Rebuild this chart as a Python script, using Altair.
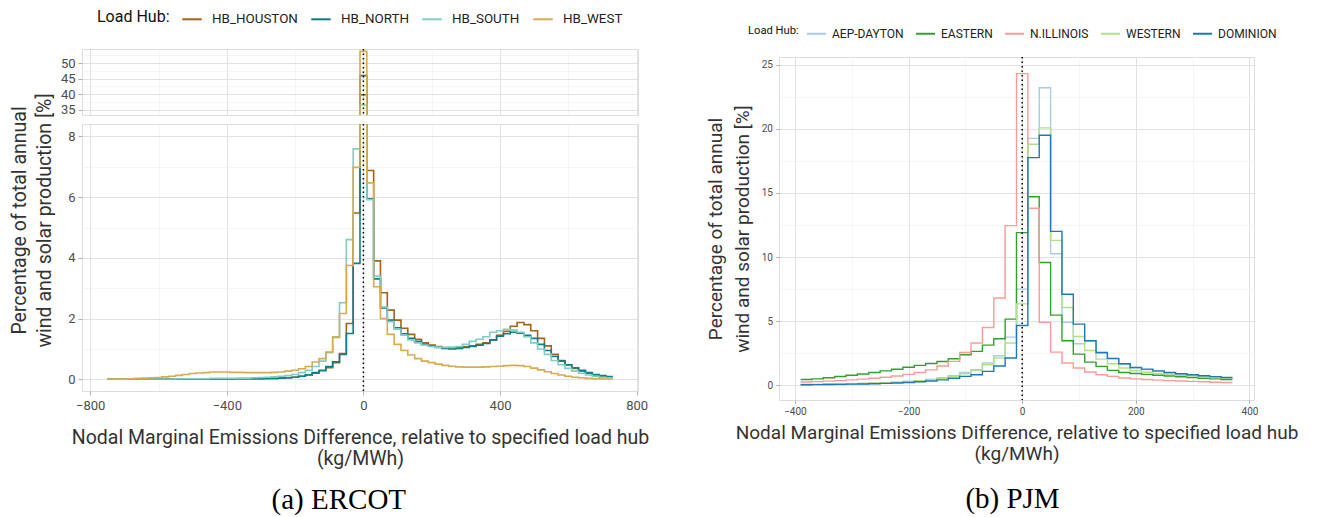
import altair as alt
import pandas as pd

# ---------------- ERCOT (bins of 20 kg/MWh, edges -750 ... 730) ----------------
ERCOT_HUBS = ["HB_HOUSTON", "HB_NORTH", "HB_SOUTH", "HB_WEST"]
ERCOT_COLORS = ["#A6611A", "#0E7F86", "#80CDC1", "#D9AA4E"]
ERCOT_EDGES = list(range(-750, 731, 20))

# left tail: bin centres -740 ... -220 (27 bins)
houston_left = [0.0, 0.0, 0.0, 0.0, 0.0, 0.0, 0.0, 0.01, 0.01, 0.01, 0.01, 0.01, 0.01, 0.01,
                0.01, 0.01, 0.01, 0.01, 0.01, 0.02, 0.02, 0.02, 0.02, 0.03, 0.03, 0.04, 0.05]
north_left = [0.0, 0.0, 0.0, 0.0, 0.0, 0.0, 0.0, 0.01, 0.01, 0.01, 0.01, 0.01, 0.01, 0.01,
              0.01, 0.01, 0.01, 0.01, 0.01, 0.02, 0.02, 0.02, 0.02, 0.03, 0.03, 0.04, 0.05]
south_left = [0.0, 0.0, 0.0, 0.01, 0.01, 0.01, 0.01, 0.01, 0.01, 0.01, 0.02, 0.02, 0.02, 0.02,
              0.02, 0.03, 0.03, 0.03, 0.03, 0.04, 0.04, 0.05, 0.06, 0.07, 0.08, 0.1, 0.12]
west_left = [0.0, 0.01, 0.01, 0.02, 0.03, 0.04, 0.05, 0.06, 0.08, 0.1, 0.13, 0.16, 0.19, 0.21,
             0.22, 0.24, 0.24, 0.24, 0.23, 0.23, 0.22, 0.22, 0.22, 0.22, 0.23, 0.24, 0.27]
# near centre: bin centres -200 ... -20 (10 bins)
houston_near = [0.07, 0.1, 0.14, 0.2, 0.28, 0.38, 0.55, 0.85, 1.84, 5.48]
north_near = [0.07, 0.1, 0.15, 0.22, 0.3, 0.42, 0.58, 0.82, 1.51, 3.82]
south_near = [0.16, 0.22, 0.3, 0.42, 0.6, 0.88, 1.4, 2.52, 4.6, 7.59]
west_near = [0.3, 0.35, 0.42, 0.57, 0.68, 0.9, 1.38, 2.17, 3.75, 6.98]
# central bin (-10 ... 10)
houston_mid = [39.8]
north_mid = [45.96]
south_mid = [36.5]
west_mid = [53.75]
# right side: bin centres 20 ... 720 (36 bins)
houston_right = [6.88, 3.9, 2.85, 2.28, 1.95, 1.68, 1.48, 1.32, 1.2, 1.13, 1.08, 1.05, 1.04, 1.05,
                 1.07, 1.1, 1.15, 1.2, 1.3, 1.45, 1.58, 1.75, 1.87, 1.8, 1.6, 1.35, 1.1, 0.82,
                 0.62, 0.47, 0.36, 0.27, 0.2, 0.14, 0.1, 0.07]
north_right = [5.95, 3.31, 2.35, 1.95, 1.7, 1.5, 1.35, 1.25, 1.15, 1.1, 1.05, 1.02, 1.0, 1.02,
               1.05, 1.08, 1.12, 1.18, 1.3, 1.42, 1.5, 1.55, 1.52, 1.45, 1.35, 1.15, 0.95, 0.75,
               0.6, 0.48, 0.38, 0.3, 0.22, 0.16, 0.12, 0.09]
south_right = [5.92, 3.4, 2.38, 1.9, 1.65, 1.45, 1.3, 1.2, 1.13, 1.08, 1.06, 1.05, 1.06, 1.08,
               1.15, 1.25, 1.32, 1.4, 1.55, 1.6, 1.65, 1.62, 1.55, 1.4, 1.2, 1.0, 0.82, 0.62,
               0.48, 0.36, 0.27, 0.2, 0.14, 0.1, 0.07, 0.05]
west_right = [6.47, 3.05, 2.0, 1.48, 1.15, 0.95, 0.8, 0.68, 0.6, 0.55, 0.5, 0.46, 0.43, 0.41,
              0.4, 0.4, 0.4, 0.41, 0.42, 0.43, 0.45, 0.46, 0.45, 0.42, 0.37, 0.31, 0.25, 0.19,
              0.14, 0.1, 0.07, 0.05, 0.03, 0.02, 0.01, 0.01]

ERCOT_VALUES = {
    "HB_HOUSTON": houston_left + houston_near + houston_mid + houston_right,
    "HB_NORTH": north_left + north_near + north_mid + north_right,
    "HB_SOUTH": south_left + south_near + south_mid + south_right,
    "HB_WEST": west_left + west_near + west_mid + west_right,
}

# ---------------- PJM (bins of 20 kg/MWh, edges -390 ... 370) ----------------
PJM_HUBS = ["AEP-DAYTON", "EASTERN", "N.ILLINOIS", "WESTERN", "DOMINION"]
PJM_COLORS = ["#A6CEE3", "#33A02C", "#FB9A99", "#B2DF8A", "#1F78B4"]
PJM_EDGES = list(range(-390, 371, 20))

# bin centres -380 ... -20 (19), 0 (1), 20 ... 360 (18)
aep = [0.06, 0.07, 0.08, 0.1, 0.12, 0.14, 0.17, 0.2, 0.24, 0.3, 0.36, 0.45, 0.58, 0.75, 1.0,
       1.21, 1.73, 2.3, 3.75, 7.5,
       19.25,
       23.2, 10.25, 4.9, 3.24, 3.45, 2.5, 2.04, 1.66, 1.37, 1.22, 1.08, 0.97, 0.88, 0.8, 0.72,
       0.65, 0.58, 0.5]
eastern = [0.45, 0.5, 0.58, 0.68, 0.78, 0.88, 1.0, 1.12, 1.25, 1.4, 1.55, 1.7, 1.85, 2.07, 2.38,
           2.64, 3.13, 3.63, 5.16,
           11.9,
           14.7, 9.57, 5.47, 3.47, 2.43, 1.8, 1.47, 1.16, 1.0, 0.92, 0.85, 0.78, 0.72, 0.66, 0.6,
           0.55, 0.5, 0.45]
n_illinois = [0.25, 0.28, 0.32, 0.36, 0.42, 0.48, 0.55, 0.63, 0.72, 0.85, 1.0, 1.2, 1.5, 1.86,
              2.56, 3.29, 4.5, 6.8, 12.45,
              24.3,
              13.8, 4.9, 2.58, 1.73, 1.34, 1.03, 0.82, 0.69, 0.56, 0.5, 0.45, 0.4, 0.36, 0.33,
              0.3, 0.27, 0.24, 0.22]
western = [0.06, 0.07, 0.08, 0.1, 0.12, 0.14, 0.17, 0.2, 0.24, 0.3, 0.36, 0.45, 0.55, 0.7, 0.9,
           1.16, 1.6, 2.12, 3.29, 6.35,
           18.8,
           20.07, 11.3, 6.06, 3.8, 2.71, 2.04, 1.68, 1.34, 1.13, 1.02, 0.93, 0.85, 0.78, 0.72,
           0.66, 0.6, 0.55, 0.5]
dominion = [0.04, 0.05, 0.06, 0.07, 0.09, 0.1, 0.12, 0.15, 0.18, 0.22, 0.27, 0.33, 0.42, 0.55,
            0.69, 0.82, 1.08, 1.5, 2.12, 4.66,
            17.75,
            19.5, 12.0, 7.1, 4.77, 3.47, 2.56, 2.1, 1.68, 1.39, 1.26, 1.12, 1.0, 0.9, 0.82, 0.74,
            0.67, 0.6, 0.52]
PJM_VALUES = {"AEP-DAYTON": aep, "EASTERN": eastern, "N.ILLINOIS": n_illinois,
              "WESTERN": western, "DOMINION": dominion}

X_TITLE = ["Nodal Marginal Emissions Difference, relative to specified load hub", "(kg/MWh)"]
Y_TITLE = ["Percentage of total annual", "wind and solar production [%]"]


def step_frame(values, edges, hubs):
    rows = []
    for k, hub in enumerate(hubs):
        v = values[hub]
        n = min(len(v), len(edges) - 1)
        for i in range(n):
            rows.append({"hub": hub, "x": edges[i], "y": v[i], "o": k})
        rows.append({"hub": hub, "x": edges[n], "y": v[n - 1], "o": k})
    return pd.DataFrame(rows)


ercot_df = step_frame(ERCOT_VALUES, ERCOT_EDGES, ERCOT_HUBS)
pjm_df = step_frame(PJM_VALUES, PJM_EDGES, PJM_HUBS)
zero_df = pd.DataFrame({"x": [0]})
spacer_df = pd.DataFrame({"s": [0]})

FONT = "Roboto"
GRID_MAJ = "#DEDEDE"
GRID_MIN = "#EFEFEF"
LABEL_C = "#4D4D4D"
TITLE_C = "#333333"


def grid_axis(values, major_mod, **kw):
    test = f"abs(datum.value % {major_mod}) < 1e-9"
    base = dict(
        values=values,
        labelExpr=f"abs(datum.value % {major_mod}) < 1e-9 ? datum.label : ''",
        gridColor={"condition": {"test": test, "value": GRID_MAJ}, "value": GRID_MIN},
        gridWidth={"condition": {"test": test, "value": 0.9}, "value": 0.6},
        tickOpacity={"condition": {"test": test, "value": 1}, "value": 0},
        tickColor="#B3B3B3",
        domain=False,
        labelFont=FONT,
        labelColor=LABEL_C,
        titleFont=FONT,
        titleColor=TITLE_C,
        titleFontWeight="normal",
        labelFlush=False,
        labelOverlap=False,
    )
    base.update(kw)
    return alt.Axis(**base)


ERCOT_XDOM = [-824, 804]
ercot_color = alt.Color(
    "hub:N",
    scale=alt.Scale(domain=ERCOT_HUBS, range=ERCOT_COLORS),
    legend=alt.Legend(
        title="Load Hub:", orient="none", legendX=15, legendY=-41, direction="horizontal",
        titleOrient="left", titleFont=FONT, titleFontSize=16, titleFontWeight="normal",
        titleColor="#111111", labelFont=FONT, labelFontSize=13.4, labelColor="#222222",
        symbolType="stroke", symbolSize=380, symbolStrokeWidth=2, labelOffset=9,
        columnPadding=9, titlePadding=11,
    ),
)


def ercot_panel(ydom, yvalues, ymod, height, bottom):
    if bottom:
        xaxis = grid_axis(list(range(-800, 801, 200)), 400, title=X_TITLE, labelFontSize=13,
                          tickSize=4, labelPadding=4.5, titleFontSize=19.5,
                          titleLineHeight=21.5, titleY=37, titleBaseline="top")
        yaxis = grid_axis(yvalues, ymod, title=Y_TITLE, labelFontSize=13, tickSize=4,
                          labelPadding=3, titleFontSize=19.5, titleLineHeight=25,
                          titleX=-53, titleY=96)
    else:
        xaxis = grid_axis(list(range(-800, 801, 200)), 400, title=None, labels=False,
                          ticks=False)
        yaxis = grid_axis(yvalues, ymod, title=None, labelFontSize=13, tickSize=4,
                          labelPadding=3)
    x = alt.X("x:Q", scale=alt.Scale(domain=ERCOT_XDOM, nice=False, zero=False), axis=xaxis)
    lines = alt.Chart(ercot_df).mark_line(interpolate="step-after", strokeWidth=1.6,
                                          clip=True).encode(
        x=x,
        y=alt.Y("y:Q", scale=alt.Scale(domain=ydom, nice=False, zero=False), axis=yaxis),
        color=ercot_color,
        order=alt.Order("x:Q"),
        detail="o:O",
    )
    rule = alt.Chart(zero_df).mark_rule(color="black", strokeDash=[1.5, 3],
                                        strokeWidth=1.5).encode(x="x:Q")
    return alt.layer(lines, rule).properties(width=556, height=height)


ercot_top = ercot_panel([33.3, 54.5], [35, 37.5, 40, 42.5, 45, 47.5, 50, 52.5], 5, 66, False)
ercot_bot = ercot_panel([-0.385, 8.41], list(range(0, 9)), 2, 267, True)
ercot = alt.vconcat(ercot_top, ercot_bot, spacing=9, bounds="flush").properties(
    title=alt.TitleParams("(a) ERCOT", orient="bottom", anchor="middle", font="Liberation Serif",
                          fontSize=29, fontWeight="normal", color="black", offset=17, dx=10)
)

pjm_lines = alt.Chart(pjm_df).mark_line(interpolate="step-after", strokeWidth=1.4,
                                        clip=True).encode(
    x=alt.X("x:Q", scale=alt.Scale(domain=[-428, 408], nice=False, zero=False),
            axis=grid_axis(list(range(-400, 401, 100)), 200, title=X_TITLE, labelFontSize=10,
                           tickSize=3.5, labelPadding=2.5, titleFontSize=19,
                           titleLineHeight=21, titleY=23, titleBaseline="top")),
    y=alt.Y("y:Q", scale=alt.Scale(domain=[-1.15, 25.6], nice=False, zero=False),
            axis=grid_axis([0, 2.5, 5, 7.5, 10, 12.5, 15, 17.5, 20, 22.5, 25], 5,
                           title=Y_TITLE, labelFontSize=10, tickSize=3.5, labelPadding=3,
                           titleFontSize=19, titleLineHeight=27, titleX=-54)),
    color=alt.Color(
        "hub:N",
        scale=alt.Scale(domain=PJM_HUBS, range=PJM_COLORS),
        legend=alt.Legend(
            title="Load Hub:", orient="none", legendX=-31, legendY=-26, direction="horizontal",
            titleOrient="left", titleFont=FONT, titleFontSize=11.2, titleFontWeight="normal",
            titleColor="#111111", labelFont=FONT, labelFontSize=12, labelColor="#222222",
            symbolType="stroke", symbolSize=361, symbolStrokeWidth=2, labelOffset=5,
            columnPadding=8, titlePadding=7,
        ),
    ),
    order=alt.Order("x:Q"),
    detail="o:O",
)
pjm_rule = alt.Chart(zero_df).mark_rule(color="black", strokeDash=[1.5, 3],
                                        strokeWidth=1.5).encode(x="x:Q")
pjm = alt.layer(pjm_lines, pjm_rule).properties(
    width=475, height=343,
    title=alt.TitleParams("(b) PJM", orient="bottom", anchor="middle", font="Liberation Serif",
                          fontSize=29, fontWeight="normal", color="black", offset=22, dx=-4),
)

# invisible strip that lowers the PJM panel relative to the ERCOT one
spacer = alt.Chart(spacer_df).mark_point(opacity=0).encode(
    x=alt.X("s:Q", axis=None)
).properties(width=475, height=1, view=alt.ViewBackground(stroke="transparent"))

pjm_col = alt.vconcat(spacer, pjm, spacing=7, bounds="flush")

chart = alt.hconcat(ercot, pjm_col, spacing=55).resolve_scale(color="independent").properties(
    padding=0
).configure_view(stroke="#B3B3B3", strokeWidth=1).configure(background="white")

chart.save("out.html", embed_options={"renderer": "svg", "actions": False})
